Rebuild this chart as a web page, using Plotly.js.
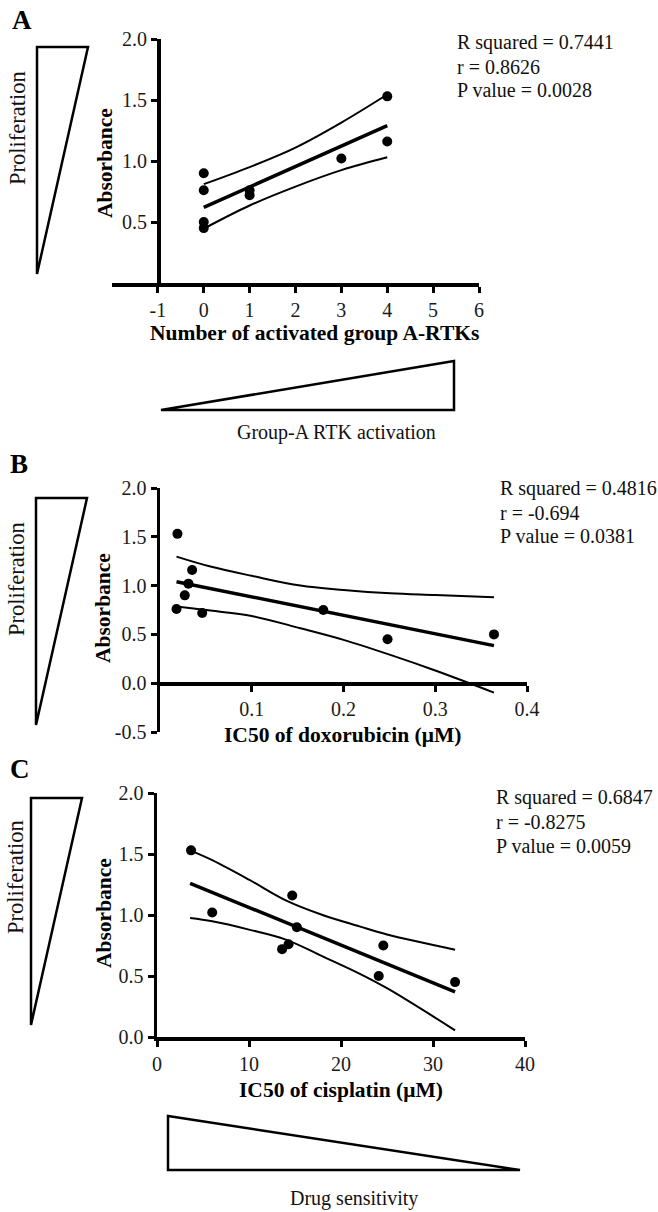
<!DOCTYPE html>
<html>
<head>
<meta charset="utf-8">
<script src="https://cdn.plot.ly/plotly-3.0.1.min.js"></script>
<style>
  body { margin: 0; background: #fff; }
  #chart { width: 658px; height: 1212px; }
</style>
</head>
<body>
<div id="chart"></div>
<script>
// Panel A: absorbance vs number of activated group A-RTKs
const aX = [0, 0, 0, 0, 1, 1, 3, 4, 4];
const aY = [0.90, 0.76, 0.50, 0.45, 0.76, 0.72, 1.02, 1.53, 1.16];
const aFitX = [0, 4];
const aFitY = [0.62, 1.29];
const aBandX = [0, 1, 2, 3, 4];
const aUpper = [0.81, 0.95, 1.11, 1.315, 1.545];
const aLower = [0.445, 0.635, 0.79, 0.925, 1.03];
const aTicks = [-1, 0, 1, 2, 3, 4, 5, 6];
const aTickText = ['-1', '0', '1', '2', '3', '4', '5', '6'];
const aStats = ['R squared = 0.7441', 'r = 0.8626', 'P value = 0.0028'];

// Panel B: absorbance vs IC50 of doxorubicin
const bX = [0.019, 0.018, 0.035, 0.031, 0.027, 0.046, 0.178, 0.248, 0.364];
const bY = [1.53, 0.76, 1.16, 1.02, 0.90, 0.72, 0.75, 0.45, 0.50];
const bFitX = [0.018, 0.364];
const bFitY = [1.04, 0.385];
const bBandX = [0.018, 0.055, 0.1, 0.153, 0.2, 0.251, 0.3, 0.364];
const bUpper = [1.297, 1.195, 1.10, 1.0, 0.956, 0.922, 0.904, 0.881];
const bLower = [0.785, 0.744, 0.689, 0.563, 0.444, 0.29, 0.13, -0.096];
const bTicks = [0.1, 0.2, 0.3, 0.4];
const bYTicks = [-0.5, 0, 0.5, 1, 1.5, 2];
const bYTickText = ['-0.5', '0.0', '0.5', '1.0', '1.5', '2.0'];
const bStats = ['R squared = 0.4816', 'r = -0.694', 'P value = 0.0381'];

// Panel C: absorbance vs IC50 of cisplatin
const cX = [3.7, 6.0, 14.7, 15.2, 13.6, 14.3, 24.6, 24.1, 32.4];
const cY = [1.53, 1.02, 1.16, 0.90, 0.72, 0.76, 0.75, 0.50, 0.45];
const cFitX = [3.6, 32.4];
const cFitY = [1.26, 0.37];
const cBandX = [3.6, 6, 10, 14, 18, 22, 25, 32.4];
const cUpper = [1.53, 1.45, 1.29, 1.12, 1.0, 0.907, 0.84, 0.716];
const cLower = [0.975, 0.948, 0.88, 0.798, 0.661, 0.52, 0.40, 0.055];
const cTicks = [0, 10, 20, 30, 40];
const cStats = ['R squared = 0.6847', 'r = -0.8275', 'P value = 0.0059'];

const W = 658, H = 1212;
const FONT = 'Liberation Serif, Times New Roman, serif';
const px = x => x / W;
const py = y => 1 - y / H;

function panelTraces(xa, ya, x, y, fitX, fitY, bandX, upper, lower) {
    const band = yy => ({
        x: bandX, y: yy, xaxis: xa, yaxis: ya, mode: 'lines',
        line: { color: '#000', width: 2, shape: 'spline' }, hoverinfo: 'skip'
    });
    return [
        band(upper),
        band(lower),
        { x: fitX, y: fitY, xaxis: xa, yaxis: ya, mode: 'lines', line: { color: '#000', width: 3.5 } },
        { x: x, y: y, xaxis: xa, yaxis: ya, mode: 'markers', marker: { color: '#000', size: 10 } }
    ];
}

const data = [].concat(
    panelTraces('x', 'y', aX, aY, aFitX, aFitY, aBandX, aUpper, aLower),
    panelTraces('x2', 'y2', bX, bY, bFitX, bFitY, bBandX, bUpper, bLower),
    panelTraces('x3', 'y3', cX, cY, cFitX, cFitY, cBandX, cUpper, cLower)
);

const axBase = {
    showline: true, linewidth: 3.5, linecolor: '#000',
    ticks: 'outside', ticklen: 6, tickwidth: 3, tickcolor: '#000',
    showgrid: false, zeroline: false, fixedrange: true,
    tickfont: { family: FONT, size: 20, color: '#1a1a1a' }
};

// text helpers
const ann = (text, x, y, opts) => Object.assign({
    text: text, x: px(x), y: py(y), xref: 'paper', yref: 'paper',
    showarrow: false, xanchor: 'center', yanchor: 'middle',
    font: { family: FONT, size: 20, color: '#111' }
}, opts || {});
const titleFont = { family: FONT, size: 21.5, color: '#000' };

const annotations = [];
[['A', 22, 20], ['B', 19, 464], ['C', 20, 769]].forEach(p => {
    annotations.push(ann('<b>' + p[0] + '</b>', p[1], p[2], { font: { family: FONT, size: 27, color: '#000' } }));
});
[[18, 128], [16, 579], [15, 877]].forEach(p => {
    annotations.push(ann('Proliferation', p[0], p[1], { textangle: -90, font: { family: FONT, size: 22.5, color: '#111' } }));
});
[[105, 163], [103, 608], [104, 913]].forEach(p => {
    annotations.push(ann('<b>Absorbance</b>', p[0], p[1], { textangle: -90, font: titleFont }));
});
annotations.push(ann('<b>Number of activated group A-RTKs</b>', 314, 333, { font: titleFont }));
annotations.push(ann('<b>IC50 of doxorubicin (μM)</b>', 342, 735, { font: titleFont }));
annotations.push(ann('<b>IC50 of cisplatin (μM)</b>', 341, 1090, { font: titleFont }));
annotations.push(ann('Group-A RTK activation', 336, 432));
annotations.push(ann('Drug sensitivity', 354, 1198));

[[aStats, 455, [43, 67, 90]], [bStats, 498, [488, 513, 536]], [cStats, 494, [797, 822, 846]]].forEach(s => {
    s[0].forEach((t, i) => {
        annotations.push(ann(t, s[1], s[2][i], { xanchor: 'left' }));
    });
});

// decorative wedge triangles
const tri = pts => ({
    type: 'path', xref: 'paper', yref: 'paper',
    path: 'M' + pts.map(p => px(p[0]) + ',' + py(p[1])).join(' L') + ' Z',
    line: { color: '#000', width: 2.5 }, fillcolor: 'rgba(0,0,0,0)'
});
const shapes = [
    tri([[37, 47], [88, 47], [37, 274]]),
    tri([[36, 498], [87, 498], [36, 725]]),
    tri([[31, 798], [82, 798], [31, 1025]]),
    tri([[161, 410], [454, 361], [454, 410]]),
    tri([[168, 1116], [168, 1170], [520, 1170]])
];

const layout = {
    width: W, height: H,
    margin: { l: 0, r: 0, t: 0, b: 0 },
    showlegend: false,
    paper_bgcolor: '#fff', plot_bgcolor: '#fff',
    font: { family: FONT, color: '#111' },
    xaxis: Object.assign({}, axBase, {
        domain: [px(112), px(479)], range: [-2, 6], anchor: 'y',
        tickvals: aTicks, ticktext: aTickText
    }),
    yaxis: Object.assign({}, axBase, {
        domain: [py(283), py(39)], range: [0, 2], anchor: 'free', position: px(158),
        tickvals: [0.5, 1, 1.5, 2], ticktext: ['0.5', '1.0', '1.5', '2.0']
    }),
    xaxis2: Object.assign({}, axBase, {
        domain: [px(160), px(527)], range: [0, 0.4], anchor: 'free', position: py(683),
        tickvals: bTicks, ticktext: bTicks.map(String)
    }),
    yaxis2: Object.assign({}, axBase, {
        domain: [py(732), py(488)], range: [-0.5, 2], anchor: 'x2',
        tickvals: bYTicks, ticktext: bYTickText
    }),
    xaxis3: Object.assign({}, axBase, {
        domain: [px(157), px(525)], range: [0, 40], anchor: 'y3',
        tickvals: cTicks, ticktext: cTicks.map(String)
    }),
    yaxis3: Object.assign({}, axBase, {
        domain: [py(1037), py(793)], range: [0, 2], anchor: 'x3',
        tickvals: [0, 0.5, 1, 1.5, 2], ticktext: ['0.0', '0.5', '1.0', '1.5', '2.0']
    }),
    annotations: annotations,
    shapes: shapes
};

Plotly.newPlot('chart', data, layout, { displayModeBar: false, staticPlot: true });
</script>
</body>
</html>
